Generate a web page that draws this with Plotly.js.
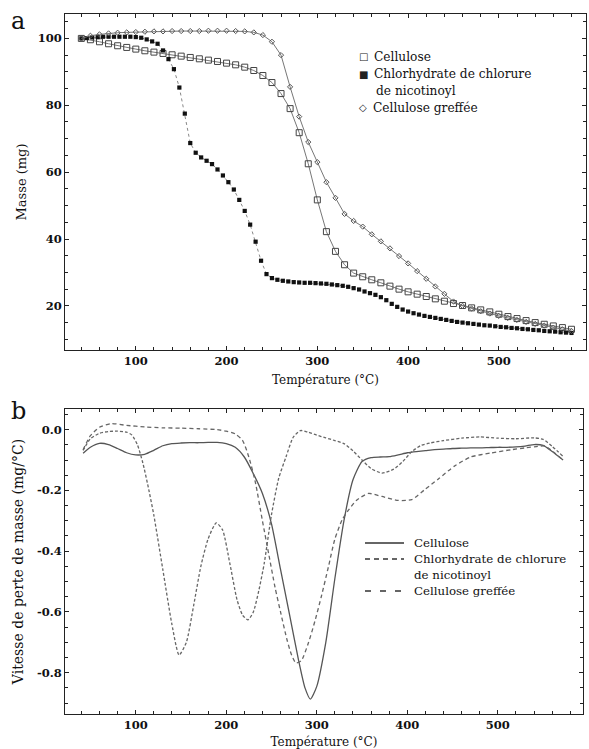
<!DOCTYPE html>
<html>
<head>
<meta charset="utf-8">
<script src="https://cdn.plot.ly/plotly-3.0.1.min.js"></script>
<style>html,body{margin:0;padding:0;background:#fff;}#chart{width:589px;height:749px;}</style>
</head>
<body>
<div id="chart"></div>
<script>
// ---------- Panel a : TGA (mass, mg) ----------
const tempCell = [40,50,60,70,80,90,100,110,120,130,140,150,160,170,180,190,200,210,220,230,240,250,260,270,280,290,300,310,320,330,340,350,360,370,380,390,400,410,420,430,440,450,460,470,480,490,500,510,520,530,540,550,560,570,580];
const massCell = [100,99.6,99.0,98.4,97.8,97.3,96.8,96.3,95.9,95.5,95.1,94.7,94.3,93.9,93.5,93.1,92.6,92.1,91.4,90.4,88.9,86.8,83.5,79.0,71.8,62.5,51.7,42.2,36.3,32.3,29.8,28.7,27.8,26.9,25.9,25.0,24.2,23.5,22.8,22.1,21.4,20.7,20.1,19.4,18.8,18.2,17.5,16.8,16.2,15.6,15.0,14.5,14.0,13.5,13.0];

const tempChl = [40,46,52,58,64,70,76,82,88,94,100,106,112,118,124,130,136,142,148,154,160,166,172,178,184,190,196,202,208,214,220,226,232,238,244,250,256,262,268,274,280,286,292,298,304,310,316,322,328,334,340,346,352,358,364,370,376,382,388,394,400,406,412,418,424,430,436,442,448,454,460,466,472,478,484,490,496,502,508,514,520,526,532,538,544,550,556,562,568,574,580];
const massChl = [100.0,100.1,100.3,100.4,100.5,100.5,100.5,100.5,100.5,100.5,100.4,100.2,99.7,99.1,98.4,96.4,93.8,90.8,85.3,77.5,68.7,65.8,64.4,63.4,62.4,60.8,59.0,57.0,54.8,51.7,48.4,44.3,39.2,33.5,29.5,28.3,27.8,27.5,27.3,27.1,27.0,26.9,26.9,26.8,26.7,26.6,26.4,26.2,26.0,25.7,25.3,24.9,24.3,23.8,23.3,22.6,21.7,20.6,19.7,18.9,18.3,17.8,17.4,17.0,16.7,16.4,16.1,15.8,15.5,15.2,15.0,14.8,14.6,14.4,14.2,14.1,13.9,13.7,13.6,13.4,13.3,13.1,13.0,12.8,12.7,12.5,12.4,12.3,12.1,12.0,11.9];

const tempGraft = [40,50,60,70,80,90,100,110,120,130,140,150,160,170,180,190,200,210,220,230,240,250,260,270,280,290,300,310,320,330,340,350,360,370,380,390,400,410,420,430,440,450,460,470,480,490,500,510,520,530,540,550,560,570,580];
const massGraft = [100,100.8,101.2,101.5,101.7,101.8,101.9,102.0,102.1,102.1,102.2,102.2,102.2,102.2,102.3,102.3,102.3,102.2,102.1,101.8,101.0,99.0,95.0,85.5,76.6,69.0,63.0,57.0,52.3,47.5,45.4,43.7,41.4,39.3,37.2,34.9,32.7,30.4,28.1,25.8,23.6,21.3,20.0,19.2,18.4,17.7,17.0,16.4,15.8,15.2,14.6,14.1,13.5,13.0,12.5];

// ---------- Panel b : DTG (mg/°C) ----------
const dtgTempCell = [42,50,60,70,80,90,100,110,120,130,140,150,160,170,180,190,200,210,220,230,240,250,260,270,280,287,293,300,310,320,330,340,350,360,370,380,390,400,410,420,430,440,450,460,470,480,490,500,510,520,530,540,550,560,572];
const dtgCell = [-0.078,-0.058,-0.045,-0.049,-0.062,-0.076,-0.083,-0.081,-0.068,-0.053,-0.046,-0.044,-0.043,-0.043,-0.042,-0.042,-0.046,-0.058,-0.09,-0.145,-0.21,-0.31,-0.46,-0.61,-0.76,-0.85,-0.887,-0.845,-0.70,-0.49,-0.30,-0.165,-0.105,-0.092,-0.090,-0.089,-0.083,-0.076,-0.072,-0.069,-0.066,-0.064,-0.062,-0.061,-0.060,-0.060,-0.059,-0.058,-0.058,-0.057,-0.054,-0.049,-0.052,-0.072,-0.10];

const dtgTempChl = [42,50,60,70,80,90,96,102,108,114,120,130,140,148,156,164,172,180,189,196,204,212,218,224,230,236,242,250,258,266,274,282,290,300,310,320,330,340,350,360,372,385,395,405,415,425,440,460,480,500,520,540,550,560,572];
const dtgChl = [-0.068,-0.03,-0.012,-0.006,-0.005,-0.008,-0.018,-0.05,-0.11,-0.19,-0.28,-0.46,-0.64,-0.742,-0.70,-0.58,-0.45,-0.36,-0.307,-0.33,-0.44,-0.56,-0.61,-0.626,-0.60,-0.53,-0.44,-0.28,-0.16,-0.09,-0.025,-0.003,-0.008,-0.018,-0.027,-0.036,-0.046,-0.07,-0.10,-0.128,-0.143,-0.13,-0.105,-0.072,-0.052,-0.044,-0.036,-0.028,-0.024,-0.028,-0.030,-0.027,-0.032,-0.055,-0.088];

const dtgTempGraft = [42,50,60,73,90,110,130,150,170,190,200,210,218,225,232,240,247,254,260,267,272,277,283,291,298,305,313,320,328,335,344,357,372,390,405,419,434,452,470,492,515,530,544,552,562,572];
const dtgGraft = [-0.066,-0.02,0.008,0.020,0.014,0.009,0.006,0.005,0.003,0.000,-0.005,-0.014,-0.035,-0.09,-0.17,-0.30,-0.41,-0.52,-0.60,-0.69,-0.74,-0.768,-0.76,-0.70,-0.63,-0.55,-0.45,-0.36,-0.297,-0.265,-0.232,-0.21,-0.22,-0.233,-0.23,-0.198,-0.163,-0.12,-0.09,-0.077,-0.066,-0.06,-0.055,-0.054,-0.075,-0.10];

// ---------- Labels ----------
const seriesNames = ['Cellulose', 'Chlorhydrate de chlorure', 'de nicotinoyl', 'Cellulose greffée'];
const xTickVals = [100,200,300,400,500];
const yTickValsA = [20,40,60,80,100];
const yTickValsB = [0,-0.2,-0.4,-0.6,-0.8];
const yTickTextB = ['0.0','-0.2','-0.4','-0.6','-0.8'];
const xTitle = 'Température (°C)';
const yTitleA = 'Masse (mg)';
const yTitleB = 'Vitesse de perte de masse (mg/°C)';

// ---------- Geometry helpers (pixels -> paper) ----------
const W = 589, H = 749, ML = 65, MR = 3, MT = 14, MB = 35;
const PW = W - ML - MR, PH = H - MT - MB;
const px = x => (x - ML) / PW;
const py = y => (H - MB - y) / PH;

const serif = 'DejaVu Serif';
const axisCol = '#222';
const tickFont = {family: serif, size: 11.5, color: '#111', weight: 'bold'};
const titleFont = {family: serif, size: 12, color: '#111'};

const traces = [
  {x: tempCell, y: massCell, xaxis: 'x', yaxis: 'y', mode: 'lines+markers', name: 'Cellulose',
   line: {color: '#777', width: 1}, marker: {symbol: 'square-open', size: 6, color: '#444', line: {width: 1}}},
  {x: tempChl, y: massChl, xaxis: 'x', yaxis: 'y', mode: 'lines+markers', name: 'Chlorhydrate de chlorure de nicotinoyl',
   line: {color: '#888', width: 1, dash: 'dot'}, marker: {symbol: 'square', size: 4.2, color: '#111'}},
  {x: tempGraft, y: massGraft, xaxis: 'x', yaxis: 'y', mode: 'lines+markers', name: 'Cellulose greffée',
   line: {color: '#777', width: 1}, marker: {symbol: 'diamond-open', size: 4, color: '#555', line: {width: 1}}},
  {x: dtgTempCell, y: dtgCell, xaxis: 'x2', yaxis: 'y2', mode: 'lines', name: 'Cellulose',
   line: {color: '#555', width: 1.3, shape: 'spline', smoothing: 0.6}},
  {x: dtgTempChl, y: dtgChl, xaxis: 'x2', yaxis: 'y2', mode: 'lines', name: 'Chlorhydrate',
   line: {color: '#666', width: 1.3, dash: '3px,2px', shape: 'spline', smoothing: 0.6}},
  {x: dtgTempGraft, y: dtgGraft, xaxis: 'x2', yaxis: 'y2', mode: 'lines', name: 'Cellulose greffée',
   line: {color: '#666', width: 1.3, dash: '4px,3px', shape: 'spline', smoothing: 0.6}}
];

function xAxis(domain, anchor, range, standoff) {
  return {domain: domain, anchor: anchor, range: range, tickmode: 'array', tickvals: xTickVals,
    ticks: 'inside', ticklen: 4, tickcolor: axisCol, showline: true, linecolor: axisCol, linewidth: 1,
    mirror: 'ticks', showgrid: false, zeroline: false, tickfont: tickFont,
    minor: {dtick: 20, tick0: 0, ticks: 'inside', ticklen: 3, tickcolor: axisCol, showgrid: false},
    title: {text: xTitle, font: titleFont, standoff: standoff}};
}

const legendFont = {family: serif, size: 12.2, color: '#111'};
const legendFontB = {family: serif, size: 11.8, color: '#111'};
const symFont = {family: 'DejaVu Sans', size: 10, color: '#222'};
function ann(x, y, text, font, anchor) {
  return {xref: 'paper', yref: 'paper', x: px(x), y: py(y), text: text, showarrow: false,
    xanchor: anchor || 'left', yanchor: 'middle', font: font};
}

const layout = {
  width: W, height: H, margin: {l: ML, r: MR, t: MT, b: MB},
  paper_bgcolor: '#fff', plot_bgcolor: '#fff', showlegend: false,
  font: {family: serif},
  xaxis: xAxis([0, 1], 'y', [22, 596], 8),
  yaxis: {domain: [py(350), 1], anchor: 'x', range: [6.8, 107.3], tickmode: 'array', tickvals: yTickValsA,
    ticks: 'inside', ticklen: 4, tickcolor: axisCol, showline: true, linecolor: axisCol, linewidth: 1,
    mirror: 'ticks', showgrid: false, zeroline: false, tickfont: tickFont,
    minor: {dtick: 5, tick0: 0, ticks: 'inside', ticklen: 3, tickcolor: axisCol, showgrid: false},
    title: {text: yTitleA, font: {family: serif, size: 13, color: '#111'}, standoff: 8}},
  xaxis2: xAxis([0, px(583)], 'y2', [22, 594], 6),
  yaxis2: {domain: [0, py(409)], anchor: 'x2', range: [-0.936, 0.068], tickmode: 'array',
    tickvals: yTickValsB, ticktext: yTickTextB,
    ticks: 'inside', ticklen: 4, tickcolor: axisCol, showline: true, linecolor: axisCol, linewidth: 1,
    mirror: 'ticks', showgrid: false, zeroline: false, tickfont: tickFont,
    minor: {dtick: 0.05, tick0: 0, ticks: 'inside', ticklen: 3, tickcolor: axisCol, showgrid: false},
    title: {text: yTitleB, font: {family: serif, size: 14, color: '#111'}, standoff: 10}},
  annotations: [
    ann(18, 21, 'a', {family: serif, size: 24, color: '#111'}, 'center'),
    ann(18, 411, 'b', {family: serif, size: 24, color: '#111'}, 'center'),
    ann(363, 57, '□', symFont, 'center'),
    ann(372, 57, seriesNames[0], legendFont),
    ann(363, 74, '■', symFont, 'center'),
    ann(372, 74, seriesNames[1], legendFont),
    ann(374, 91, seriesNames[2], legendFont),
    ann(363, 108, '◇', symFont, 'center'),
    ann(371, 108, seriesNames[3], legendFont),
    ann(412, 543, seriesNames[0], legendFontB),
    ann(412, 559, seriesNames[1], legendFontB),
    ann(412, 575, seriesNames[2], legendFontB),
    ann(412, 591, seriesNames[3], legendFontB)
  ],
  shapes: [
    {type: 'line', xref: 'paper', yref: 'paper', x0: px(365), x1: px(404), y0: py(543), y1: py(543), line: {color: '#333', width: 1.3}},
    {type: 'line', xref: 'paper', yref: 'paper', x0: px(365), x1: px(404), y0: py(559), y1: py(559), line: {color: '#333', width: 1.3, dash: '5px,4px'}},
    {type: 'line', xref: 'paper', yref: 'paper', x0: px(365), x1: px(404), y0: py(591), y1: py(591), line: {color: '#333', width: 1.3, dash: '6px,9px'}}
  ]
};

Plotly.newPlot('chart', traces, layout, {displayModeBar: false, staticPlot: true});
</script>
</body>
</html>
